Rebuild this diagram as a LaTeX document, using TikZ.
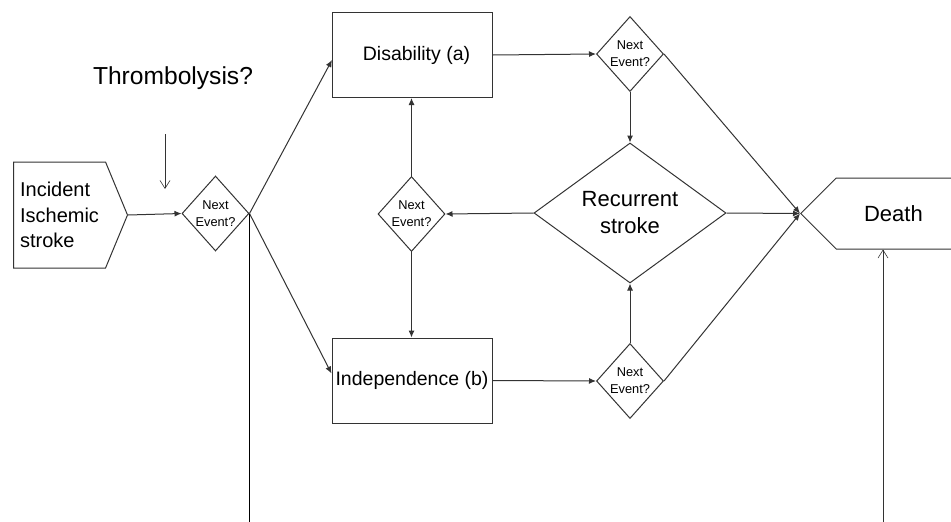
\documentclass[tikz,border=0pt]{standalone}
\usepackage{fontspec}
\setmainfont{Liberation Sans}
\usetikzlibrary{positioning,arrows.meta,shapes.geometric,shapes.symbols}

\begin{document}
\begin{tikzpicture}[
x=1pt,y=-1pt,
line width=1pt,
box/.style={rectangle,draw=black!80,minimum width=160pt,minimum height=85pt,
inner sep=0pt,align=center,font=\fontsize{19.5}{23}\selectfont},
nextev/.style={diamond,draw=black!80,minimum width=67pt,minimum height=75pt,inner sep=0pt,
label={[align=center,font=\fontsize{12.8}{17}\selectfont]center:Next\\Event?}},
sig/.style={signal,draw=black!80,inner sep=0pt},
arrow/.style={-{Latex[length=7pt,width=6pt]},draw=black!80},
openarrow/.style={-{Straight Barb[length=8pt,width=10pt]},draw=black!80,line width=0.6pt}
]
\clip (0,0) rectangle (951,522);
\node[sig,signal to=east,signal pointer angle=135,minimum width=114pt,minimum height=106pt,
anchor=west,align=left,font=\fontsize{20}{25.5}\selectfont] (inc) at (13,215) {Incident\\Ischemic\\stroke};
\node[font=\fontsize{24.6}{30}\selectfont,anchor=base] (thr) at (173,84) {Thrombolysis?};
\node[nextev] (n1) at (215.5,213.5) {};
\node[box] (dis) at (412.5,55) {\raisebox{4pt}{\hspace*{8pt}Disability (a)}};
\node[box] (ind) at (412,380.5) {Independence (b)};
\node[nextev] (n2) at (630,54) {};
\node[nextev] (n3) at (411.5,214) {};
\node[nextev] (n4) at (630,381) {};
\node[diamond,draw=black!80,shape aspect=1.4,minimum width=192pt,minimum height=140pt,inner sep=0pt,
align=center,font=\fontsize{22}{27}\selectfont] (rec) at (630,213) {Recurrent\\stroke};
\node[sig,signal to=west,signal pointer angle=90,minimum width=180pt,minimum height=71pt,anchor=west,
label={[font=\fontsize{22}{27}\selectfont,xshift=-15pt]center:Death}] (dth) at (800,213.5) {};
\coordinate (t1) at (165,134);
\coordinate (t2) at (165,189);
\coordinate (low1) at (250,530);
\coordinate (low2) at (883,530);
% links
\draw[arrow] (inc.east)--(n1.west);
\draw[arrow] (n1.east)--([yshift=-5pt]dis.west);
\draw[arrow] (n1.east)--([yshift=7pt]ind.west);
\draw (n1.east)--(n1.east|-low1);
\draw[arrow] (dis.east)--(n2.west);
\draw[arrow] (n2.south)--(rec.north);
\draw[arrow] (n2.east)--(dth.west);
\draw[arrow] (rec.west)--(n3.east);
\draw[arrow] (rec.east)--(dth.west);
\draw[arrow] (n3.north)--(n3.north|-dis.south);
\draw[arrow] (n3.south)--(n3.south|-ind.north);
\draw[arrow] (ind.east)--(n4.west);
\draw[arrow] (n4.north)--(rec.south);
\draw[arrow] (n4.east)--(dth.west);
\draw[openarrow] (t1)--(t2);
\draw[openarrow] (low2)--(low2|-dth.south);
\end{tikzpicture}
\end{document}
